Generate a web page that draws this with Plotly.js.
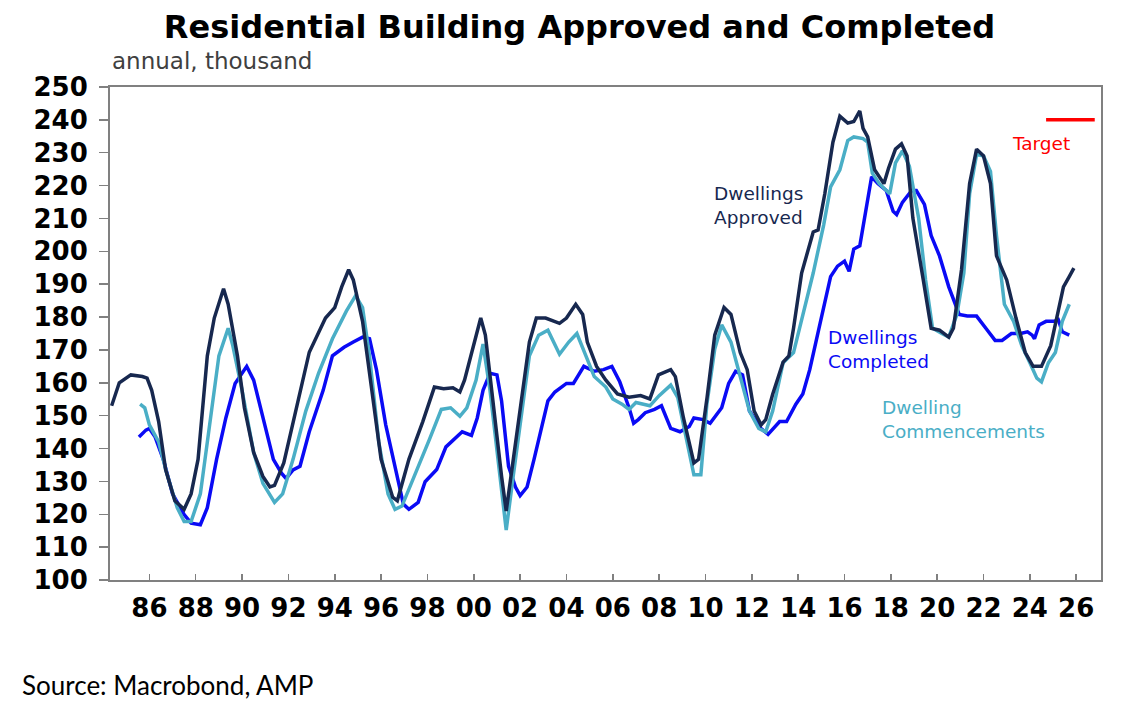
<!DOCTYPE html>
<html>
<head>
<meta charset="utf-8">
<script src="https://cdn.plot.ly/plotly-3.0.1.min.js"></script>
<style>
    html, body { margin: 0; padding: 0; background: #ffffff; }
    #chart { width: 1134px; height: 724px; }
</style>
</head>
<body>
<div id="chart"></div>
<script>
// annual totals, thousand dwellings (x = decimal year)
const approvedYears = [
    1984.37, 1984.7, 1985.2, 1985.7, 1985.9, 1986.1, 1986.4, 1986.7, 1987.1, 1987.5,
    1987.8, 1988.1, 1988.5, 1988.8, 1989.2, 1989.4, 1989.8, 1990.1, 1990.5, 1990.9,
    1991.2, 1991.4, 1991.8, 1992.3, 1992.9, 1993.6, 1994.0, 1994.3, 1994.6, 1994.8,
    1995.2, 1995.6, 1996.0, 1996.5, 1996.7, 1997.2, 1997.8, 1998.3, 1998.7, 1999.1,
    1999.4, 1999.6, 2000.0, 2000.3, 2000.5, 2000.85, 2001.2, 2001.4, 2001.7, 2002.1,
    2002.4, 2002.7, 2003.1, 2003.7, 2004.0, 2004.4, 2004.7, 2004.9, 2005.3, 2005.7,
    2006.2, 2006.7, 2007.2, 2007.6, 2007.97, 2008.5, 2008.7, 2009.05, 2009.5, 2009.7,
    2010.07, 2010.4, 2010.8, 2011.1, 2011.5, 2011.8, 2012.1, 2012.4, 2012.6, 2012.9,
    2013.35, 2013.6, 2013.8, 2014.15, 2014.65, 2014.86, 2015.15, 2015.5, 2015.8, 2016.14,
    2016.4, 2016.66, 2016.8, 2017.0, 2017.3, 2017.7, 2017.9, 2018.2, 2018.46, 2018.7,
    2018.95, 2019.4, 2019.74, 2020.1, 2020.5, 2020.7, 2021.05, 2021.4, 2021.7, 2022.0,
    2022.3, 2022.56, 2023.0, 2023.4, 2023.8, 2024.14, 2024.5, 2024.9, 2025.2, 2025.45,
    2025.7, 2025.9,
];
const approvedValues = [
    153.0, 160.0, 162.4, 161.9, 161.4, 157.7, 148.2, 133.6, 124.1, 121.5,
    126.2, 136.7, 168.2, 179.7, 188.6, 183.9, 168.2, 152.4, 138.8, 131.5,
    128.3, 128.8, 135.6, 151.4, 169.3, 179.7, 182.9, 189.2, 194.4, 191.3,
    178.7, 157.7, 136.7, 125.2, 124.1, 136.7, 148.2, 158.7, 158.2, 158.5,
    157.2, 160.8, 171.3, 179.7, 174.5, 152.4, 131.5, 121.0, 136.7, 157.7,
    172.4, 179.7, 179.7, 178.1, 179.7, 183.9, 180.8, 172.4, 165.0, 160.8,
    156.6, 155.6, 156.1, 155.1, 162.4, 164.0, 161.9, 149.3, 135.6, 136.7,
    155.6, 174.5, 182.9, 180.8, 169.2, 164.0, 151.4, 147.2, 148.8, 156.5,
    166.3, 168.2, 176.6, 193.4, 205.9, 206.5, 217.5, 233.2, 241.1, 239.0,
    239.5, 242.7, 237.4, 234.8, 224.8, 220.6, 225.3, 231.1, 232.7, 229.0,
    210.1, 191.3, 176.6, 176.0, 173.9, 176.6, 194.4, 220.6, 231.1, 229.0,
    220.6, 198.6, 191.3, 179.7, 169.2, 165.0, 165.0, 171.3, 181.8, 189.2,
    192.3, 194.9,
];

const completedYears = [
    1985.55, 1985.85, 1986.0, 1986.25, 1986.6, 1987.0, 1987.5, 1987.8, 1988.2, 1988.5,
    1988.9, 1989.3, 1989.7, 1989.9, 1990.2, 1990.5, 1990.9, 1991.35, 1991.7, 1991.9,
    1992.2, 1992.5, 1992.9, 1993.5, 1993.9, 1994.4, 1994.8, 1995.2, 1995.5, 1995.8,
    1996.2, 1996.7, 1996.96, 1997.2, 1997.6, 1997.9, 1998.4, 1998.8, 1999.2, 1999.5,
    1999.9, 2000.15, 2000.4, 2000.7, 2001.0, 2001.2, 2001.5, 2001.8, 2002.0, 2002.3,
    2002.6, 2002.9, 2003.2, 2003.5, 2004.0, 2004.3, 2004.75, 2005.2, 2005.6, 2005.96,
    2006.3, 2006.7, 2006.9, 2007.1, 2007.4, 2007.8, 2008.1, 2008.5, 2008.9, 2009.3,
    2009.5, 2009.9, 2010.2, 2010.7, 2011.0, 2011.3, 2011.6, 2011.9, 2012.4, 2012.7,
    2013.0, 2013.2, 2013.5, 2013.9, 2014.2, 2014.5, 2014.9, 2015.15, 2015.4, 2015.7,
    2016.0, 2016.2, 2016.4, 2016.66, 2016.95, 2017.17, 2017.45, 2017.8, 2018.1, 2018.25,
    2018.5, 2018.9, 2019.1, 2019.45, 2019.74, 2020.1, 2020.5, 2020.95, 2021.3, 2021.7,
    2022.1, 2022.5, 2022.8, 2023.2, 2023.6, 2023.9, 2024.1, 2024.2, 2024.4, 2024.7,
    2025.1, 2025.2, 2025.4, 2025.7,
];
const completedValues = [
    143.5, 145.6, 146.1, 143.5, 136.7, 126.2, 119.9, 117.3, 116.8, 122.0,
    136.7, 149.3, 159.8, 161.9, 165.0, 160.8, 149.3, 136.7, 132.5, 130.9,
    133.5, 134.6, 145.1, 157.7, 168.2, 170.8, 172.4, 173.9, 173.4, 164.0,
    147.2, 131.5, 123.1, 121.5, 123.6, 129.9, 133.6, 140.5, 143.0, 145.1,
    144.0, 149.3, 157.7, 162.9, 162.4, 154.5, 134.6, 128.3, 125.7, 128.3,
    136.7, 145.1, 154.5, 157.2, 159.8, 159.8, 165.0, 163.5, 164.0, 165.0,
    160.3, 152.4, 147.7, 148.8, 150.9, 151.9, 153.0, 146.1, 145.1, 146.7,
    149.3, 148.8, 147.7, 152.4, 159.8, 163.5, 162.4, 151.4, 146.1, 144.3,
    146.7, 148.2, 148.2, 153.5, 156.6, 164.0, 176.6, 183.9, 192.3, 195.5,
    197.0, 193.9, 200.7, 201.7, 213.3, 222.7, 220.6, 218.5, 212.2, 211.2,
    214.9, 218.5, 218.5, 214.3, 204.8, 198.6, 189.2, 180.8, 180.3, 180.3,
    176.6, 172.9, 172.9, 175.0, 175.0, 175.5, 174.5, 173.4, 177.6, 178.7,
    178.7, 179.7, 175.5, 174.5,
];

const commencedYears = [
    1985.6, 1985.8, 1986.0, 1986.4, 1986.75, 1987.2, 1987.5, 1987.8, 1988.2, 1988.6,
    1989.0, 1989.4, 1989.6, 1990.0, 1990.5, 1990.9, 1991.4, 1991.75, 1992.2, 1992.75,
    1993.3, 1993.9, 1994.5, 1994.9, 1995.2, 1995.5, 1995.9, 1996.3, 1996.6, 1996.9,
    1997.5, 1998.1, 1998.6, 1999.0, 1999.4, 1999.7, 2000.1, 2000.4, 2000.7, 2001.15,
    2001.4, 2001.7, 2002.1, 2002.4, 2002.8, 2003.2, 2003.7, 2004.1, 2004.45, 2004.8,
    2005.2, 2005.7, 2006.0, 2006.4, 2006.7, 2007.0, 2007.6, 2008.0, 2008.5, 2008.8,
    2009.2, 2009.5, 2009.8, 2010.06, 2010.4, 2010.7, 2011.1, 2011.5, 2011.9, 2012.3,
    2012.6, 2012.9, 2013.35, 2013.8, 2014.2, 2014.65, 2015.1, 2015.4, 2015.8, 2016.14,
    2016.4, 2016.8, 2017.0, 2017.2, 2017.5, 2017.95, 2018.2, 2018.5, 2018.8, 2019.2,
    2019.5, 2019.8, 2020.2, 2020.5, 2020.85, 2021.15, 2021.4, 2021.7, 2022.0, 2022.3,
    2022.56, 2022.9, 2023.3, 2023.65, 2024.0, 2024.3, 2024.5, 2024.8, 2025.1, 2025.4,
    2025.7,
];
const commencedValues = [
    153.5, 152.4, 147.2, 142.0, 132.5, 122.0, 117.8, 117.8, 126.2, 147.2,
    168.2, 176.6, 171.3, 157.7, 138.8, 129.4, 123.6, 126.2, 136.7, 151.4,
    162.9, 173.4, 181.8, 186.5, 182.9, 168.2, 142.0, 126.2, 121.5, 122.5,
    132.5, 143.0, 151.9, 152.4, 149.8, 152.4, 160.8, 171.8, 157.7, 131.5,
    115.2, 131.5, 152.4, 168.2, 174.5, 176.0, 168.7, 172.4, 175.0, 169.2,
    161.9, 158.7, 155.1, 153.5, 151.9, 154.0, 153.0, 156.1, 159.3, 155.6,
    142.0, 132.0, 132.0, 153.5, 170.3, 177.6, 172.4, 161.9, 151.4, 146.1,
    145.1, 151.4, 166.1, 169.2, 180.8, 193.4, 208.0, 219.6, 224.8, 233.7,
    234.8, 234.3, 233.2, 223.8, 220.6, 217.5, 226.9, 230.6, 225.9, 210.1,
    191.3, 176.6, 175.0, 173.9, 180.8, 193.4, 217.5, 229.5, 229.0, 224.3,
    204.8, 183.9, 178.7, 171.3, 166.1, 161.4, 160.3, 166.1, 169.2, 178.7,
    183.9,
];

const targetYears = [2024.7, 2026.8];
const targetValues = [240, 240];

const tickYears = [1986, 1988, 1990, 1992, 1994, 1996, 1998, 2000, 2002, 2004, 2006,
    2008, 2010, 2012, 2014, 2016, 2018, 2020, 2022, 2024, 2026];
const tickLabels = ["86", "88", "90", "92", "94", "96", "98", "00", "02", "04", "06",
    "08", "10", "12", "14", "16", "18", "20", "22", "24", "26"];


const NAVY = "#17284f";
const BLUE = "#0a0af5";
const TEAL = "#4aaec6";
const RED = "#ff0000";
const AXIS_GREY = "#808080";
// the source image is a little stretched sideways, so the wider DejaVu face fits its text better
const FONT = "\"DejaVu Sans\", Arial, sans-serif";

function lineTrace(x, y, color, name) {
    return {
        type: "scatter",
        mode: "lines",
        name,
        x,
        y,
        line: { color, width: 3.5 },
        hoverinfo: "skip",
        showlegend: false,
    };
}

const traces = [
    lineTrace(completedYears, completedValues, BLUE, "Dwellings Completed"),
    lineTrace(commencedYears, commencedValues, TEAL, "Dwelling Commencements"),
    lineTrace(approvedYears, approvedValues, NAVY, "Dwellings Approved"),
    lineTrace(targetYears, targetValues, RED, "Target"),
];

function seriesLabel(x, y, text, color) {
    return {
        x, y, text,
        xref: "x", yref: "y",
        xanchor: "left", yanchor: "middle",
        align: "left",
        showarrow: false,
        font: { family: FONT, size: 18.5, color },
    };
}

const annotations = [
    {
        text: "annual, thousand",
        xref: "paper", yref: "paper",
        x: 0, y: 1.0527,
        xanchor: "left", yanchor: "middle",
        showarrow: false,
        font: { family: FONT, size: 23, color: "#404040" },
    },
    {
        text: "Source: Macrobond, AMP",
        xref: "paper", yref: "paper",
        x: -0.091, y: -0.213,
        xanchor: "left", yanchor: "middle",
        showarrow: false,
        font: { family: "Lato, \"Open Sans\", sans-serif", size: 26, color: "#000000" },
    },
    seriesLabel(2010.29, 213.9, "Dwellings<br>Approved", NAVY),
    seriesLabel(2015.2, 170.2, "Dwellings<br>Completed", BLUE),
    seriesLabel(2017.54, 148.9, "Dwelling<br>Commencements", TEAL),
    seriesLabel(2023.14, 232.7, "Target", RED),
];

const axisBase = {
    showline: true,
    linecolor: AXIS_GREY,
    linewidth: 2,
    mirror: true,
    showgrid: false,
    zeroline: false,
    tickcolor: AXIS_GREY,
    tickwidth: 1.5,
    tickfont: { family: FONT, size: 26, color: "#000000", weight: "bold" },
};

Plotly.newPlot(
    "chart",
    traces,
    {
        width: 1134,
        height: 724,
        margin: { l: 110, r: 33, t: 87, b: 144 },
        paper_bgcolor: "#ffffff",
        plot_bgcolor: "#ffffff",
        title: {
            text: "Residential Building Approved and Completed",
            font: { family: FONT, size: 32, color: "#000000", weight: "bold" },
            xref: "container", yref: "container",
            x: 0.511, y: 0.9627,
            xanchor: "center", yanchor: "middle",
        },
        xaxis: {
            ...axisBase,
            range: [1984.3, 2027.07],
            tickvals: tickYears,
            ticktext: tickLabels,
            ticks: "inside",
            ticklen: 6,
            ticklabelstandoff: 4,
        },
        yaxis: {
            ...axisBase,
            range: [100, 250],
            tick0: 100,
            dtick: 10,
            ticks: "outside",
            ticklen: 9,
            ticklabelstandoff: 6,
        },
        annotations,
    },
    { displayModeBar: false, staticPlot: true },
);
</script>
</body>
</html>
